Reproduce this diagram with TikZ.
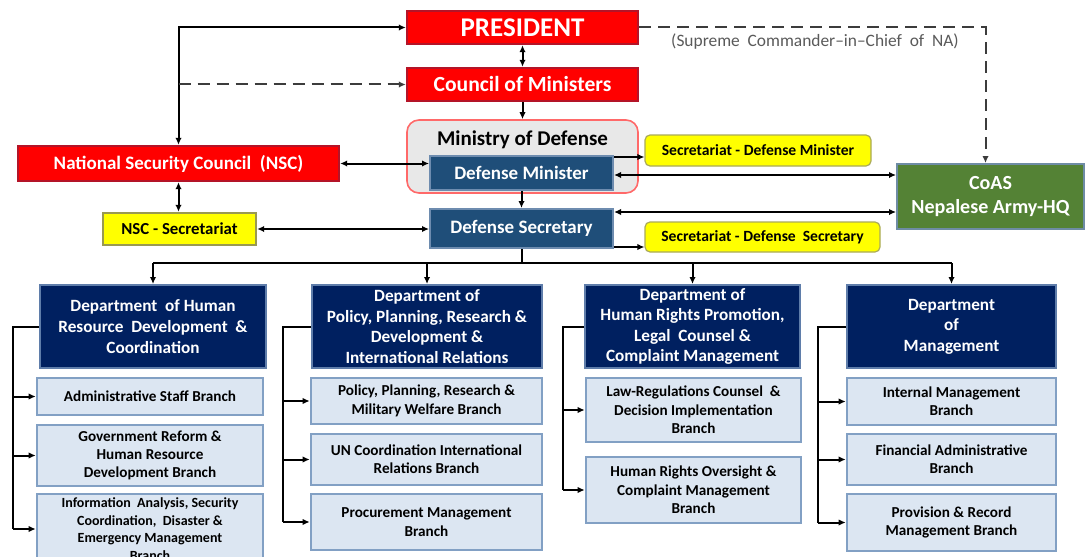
\documentclass[tikz,border=0pt]{standalone}
\usepackage{fontspec}
\setmainfont{Carlito}
\usetikzlibrary{arrows.meta}

\definecolor{presred}{RGB}{255,0,0}
\definecolor{presedge}{RGB}{180,20,40}
\definecolor{minblue}{RGB}{31,78,121}
\definecolor{minedge}{RGB}{110,140,175}
\definecolor{deptblue}{RGB}{0,32,96}
\definecolor{deptedge}{RGB}{95,125,170}
\definecolor{branchfill}{RGB}{220,230,242}
\definecolor{branchedge}{RGB}{130,160,196}
\definecolor{secyellow}{RGB}{255,255,0}
\definecolor{secedge}{RGB}{170,170,90}
\definecolor{armygreen}{RGB}{84,130,53}
\definecolor{armyedge}{RGB}{110,140,165}
\definecolor{ministgray}{RGB}{232,232,232}
\definecolor{ministedge}{RGB}{255,105,105}
\definecolor{dashgray}{RGB}{60,60,60}
\definecolor{notegray}{RGB}{90,90,90}

\begin{document}
\begin{tikzpicture}
  [x=0.5pt, y=-0.5pt,
     redbox/.style={draw=presedge,
                  line width=1.2pt,
                  fill=presred,
                  text=white,
                  inner sep=0pt,
                  minimum width=115.5pt,
                  minimum height=16.5pt},
     bluebox/.style={draw=minedge,
                  line width=1pt,
                  fill=minblue,
                  text=white,
                  inner sep=0pt,
                  minimum width=91.5pt,
                  font=\bfseries\fontsize{9.5}{11}\selectfont},
     yelbox/.style={draw=secedge,
                  line width=0.6pt,
                  rounded corners=2.5pt,
                  fill=secyellow,
                  inner sep=0pt,
                  minimum height=15.5pt,
                  font=\bfseries\fontsize{7.8}{9}\selectfont},
     dept/.style={draw=deptedge,
                  line width=1pt,
                  fill=deptblue,
                  text=white,
                  align=center,
                  inner sep=0pt,
                  minimum height=41.5pt,
                  font=\bfseries\fontsize{8.6}{10.3}\selectfont},
     branch/.style={draw=branchedge,
                  line width=1.3pt,
                  fill=branchfill,
                  align=center,
                  inner sep=0pt,
                  font=\bfseries\fontsize{7.6}{9.2}\selectfont},
     arr/.style={line width=1pt,-{Latex[length=3.5pt,width=3.2pt]}},
     darr/.style={line width=1pt,{Latex[length=3.5pt,width=3.2pt]}-{Latex[length=3.5pt,width=3.2pt]}},
     dashline/.style={line width=1pt,dashgray,dash pattern=on 6pt off 3.5pt}
  ]
    \useasboundingbox (0,0) rectangle (1085,556);
    \clip (0,0) rectangle (1085,556);
    \fill[white] (0,0) rectangle (1085,556);

    % top of the chain
    \node[redbox,font=\bfseries\fontsize{13.5}{15}\selectfont] (pres) at (522.5,27.5) {PRESIDENT};
    \node[redbox,font=\bfseries\fontsize{10.8}{12}\selectfont] (council) at (522.5,84.5) {Council of Ministers};
    \node[draw=ministedge,line width=0.8pt,fill=ministgray,rounded corners=6pt,
          minimum width=115.5pt,minimum height=36.5pt] (ministry) at (522.5,156.5) {};
    \node[font=\bfseries\fontsize{10.5}{12}\selectfont] (mintitle) at (522.5,140) {Ministry of Defense};
    \node[bluebox,minimum height=17pt] (dmin) at (521.5,173) {Defense Minister};
    \node[bluebox,minimum height=19.5pt] (dsec) at (521.5,228.5) {Defense Secretary};

    % left side
    \node[redbox,minimum width=160.5pt,minimum height=17.5pt,
          font=\bfseries\fontsize{9.5}{11}\selectfont] (nsc) at (178.5,163.5) {National Security Council~~(NSC)};
    \node[yelbox,rounded corners=0pt,draw=secedge!90!black,line width=1.2pt,
          minimum width=76.5pt,minimum height=16pt,
          font=\bfseries\fontsize{8.4}{10}\selectfont] (nscsec) at (179.5,229) {NSC - Secretariat};

    % right side
    \node[yelbox,minimum width=113pt] (secdm) at (758,150.5) {Secretariat - Defense Minister};
    \node[yelbox,minimum width=117.5pt,minimum height=15pt] (secds) at (762.5,237) {Secretariat - Defense~~Secretary};
    \node[draw=armyedge,line width=1pt,fill=armygreen,text=white,align=center,
          minimum width=93.5pt,minimum height=32.5pt,inner sep=0pt,
          font=\bfseries\fontsize{10}{12}\selectfont] (coas) at (990.5,196.5) {CoAS\\Nepalese Army-HQ};
    \node[notegray,font=\fontsize{8.7}{10}\selectfont] (cinc) at (815,42) {(Supreme~ Commander--in--Chief~ of~ NA)};

    % links of the upper part
    \draw[darr] (pres.south) -- (council.north);
    \draw[arr] (council.south) -- (ministry.north);
    \draw[arr] (dmin.south) -- (dsec.north);
    \draw[darr] (pres.west) -| (nsc.north);
    \coordinate (dashfoot) at (council.west -| nsc.north);
    \draw[dashline,-{Latex[length=3.5pt,width=3.2pt]}] (dashfoot) -- (council.west);
    \draw[dashline,-{Latex[length=3.5pt,width=3.2pt]}] (pres.east) -| ([xshift=-2.5pt]coas.north);
    \draw[darr] (nsc.east) -- (nsc.east -| dmin.west);
    \draw[darr] (nsc.south) -- (nsc.south |- nscsec.north);
    \draw[darr] (nscsec.east) -- (nscsec.east -| dsec.west);
    \draw[arr] ([yshift=-1pt]dmin.north east) -- ([yshift=-1pt]dmin.north east -| secdm.west);
    \draw[darr] ([yshift=-1pt]dmin.east) -- ([yshift=-1pt]dmin.east -| coas.west);
    \draw[darr] ([yshift=-2pt]dsec.north east) -- ([yshift=-2pt]dsec.north east -| coas.west);
    \draw[arr] ([yshift=1pt]dsec.south east) -- ([yshift=1pt]dsec.south east -| secds.west);

    % departments
    \foreach \n/\x/\w/\txt in {1/153/226/{Department~ of Human\\Resource~ Development~ \&\\Coordination},
                               2/427/230/{Department of\\Policy, Planning, Research \&\\Development \&\\International Relations},
                               3/692.5/215/{Department of\\Human Rights Promotion,\\Legal~ Counsel \&\\Complaint Management},
                               4/951.5/209/{Department\\of\\Management}}{%
        \node[dept,minimum width=\w*0.5pt] (d\n) at (\x,326.5) {\txt};
    }
    \coordinate (tree) at (521.5,263);
    \draw[line width=1pt] (dsec.south) -- (tree);
    \draw[line width=1pt] (tree -| d1.north) -- (tree -| d4.north);
    \foreach \n in {1,...,4}{%
        \draw[arr] (tree -| d\n.north) -- (d\n.north);
    }

    % branches
    \foreach \n/\j/\x/\y/\w/\h/\txt in {1/1/150/396.5/226/37/{Administrative Staff Branch},
                                        1/2/150/455.5/226/61/{Government Reform \&\\Human Resource\\Development Branch},
                                        2/1/426.5/401/231/46/{Policy, Planning, Research \&\\Military Welfare Branch},
                                        2/2/426.5/459.5/231/51/{UN Coordination International\\Relations Branch},
                                        2/3/426.5/522/231/56/{Procurement Management\\Branch},
                                        3/1/693.5/410/215/64/{Law-Regulations Counsel~ \&\\Decision Implementation\\Branch},
                                        3/2/693.5/490/215/66/{Human Rights Oversight \&\\Complaint Management\\Branch},
                                        4/1/951.5/401.5/209/47/{Internal Management\\Branch},
                                        4/2/951.5/459.5/209/51/{Financial Administrative\\Branch},
                                        4/3/951.5/522.5/209/57/{Provision \& Record\\Management Branch}}{%
        \node[branch,minimum width=\w*0.5pt,minimum height=\h*0.5pt] (b\n;\j) at (\x,\y) {\txt};
    }
    \node[branch,minimum width=113pt,minimum height=35pt,
          font=\bfseries\fontsize{7}{8.75}\selectfont] (b1;3) at (150,529)
          {Information~ Analysis, Security\\Coordination,~ Disaster \&\\Emergency Management\\Branch};

    % brackets from each department to its branches
    \foreach \n/\k/\last in {1/13/3,2/283/3,3/563/2,4/818/3}{%
        \coordinate (k\n) at (\k,300);
        \draw[line width=1pt] (d\n.west) -- (d\n.west -| k\n) -- (k\n |- b\n;\last.west);
        \foreach \j in {1,...,\last}{%
            \draw[arr] (k\n |- b\n;\j.west) -- (b\n;\j.west);
        }
    }

\end{tikzpicture}
\end{document}
